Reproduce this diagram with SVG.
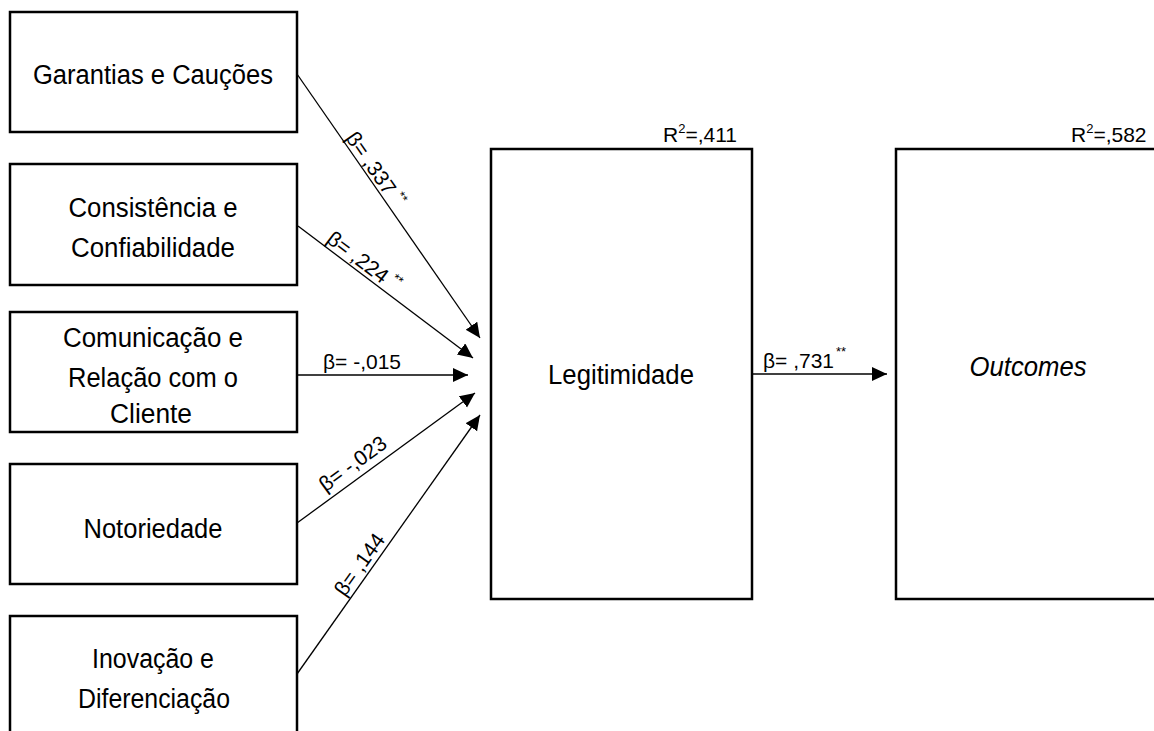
<svg xmlns="http://www.w3.org/2000/svg" width="1154" height="731" viewBox="0 0 1154 731">
<style>
.box{fill:#fff;stroke:#000;stroke-width:2.5}
.nt{font-family:"Liberation Sans",Arial,sans-serif;font-size:27px;fill:#000;text-anchor:middle}
.lb{font-family:"Liberation Sans",Arial,sans-serif;font-size:21px;fill:#000}
.sup{font-size:13px}
.cn{stroke:#000;stroke-width:1.3;fill:none;marker-end:url(#ah)}
</style>
<defs>
<marker id="ah" markerUnits="userSpaceOnUse" markerWidth="16" markerHeight="15" refX="15" refY="7" orient="auto">
<path d="M0,0 L15,7 L0,14 z" fill="#000"/>
</marker>
</defs>
<rect width="1154" height="731" fill="#fff"/>
<g id="n1"><rect class="box" x="10" y="12" width="287" height="120"/>
<text class="nt" x="153" y="84" textLength="240" lengthAdjust="spacingAndGlyphs">Garantias e Cauções</text></g>
<g id="n2"><rect class="box" x="10" y="164" width="287" height="121"/>
<text class="nt" x="153" y="217" textLength="169" lengthAdjust="spacingAndGlyphs">Consistência e</text>
<text class="nt" x="153" y="257" textLength="164" lengthAdjust="spacingAndGlyphs">Confiabilidade</text></g>
<g id="n3"><rect class="box" x="10" y="312" width="287" height="120"/>
<text class="nt" x="153" y="347" textLength="180" lengthAdjust="spacingAndGlyphs">Comunicação e</text>
<text class="nt" x="153" y="387" textLength="170" lengthAdjust="spacingAndGlyphs">Relação com o</text>
<text class="nt" x="151" y="423" textLength="82" lengthAdjust="spacingAndGlyphs">Cliente</text></g>
<g id="n4"><rect class="box" x="10" y="464" width="287" height="120"/>
<text class="nt" x="153" y="538" textLength="139" lengthAdjust="spacingAndGlyphs">Notoriedade</text></g>
<g id="n5"><rect class="box" x="10" y="616" width="287" height="140"/>
<text class="nt" x="153" y="668" textLength="122" lengthAdjust="spacingAndGlyphs">Inovação e</text>
<text class="nt" x="154" y="708" textLength="152" lengthAdjust="spacingAndGlyphs">Diferenciação</text></g>
<g id="legitimidade"><rect class="box" x="491" y="149" width="261" height="450"/>
<text class="nt" x="621" y="384" textLength="146" lengthAdjust="spacingAndGlyphs">Legitimidade</text>
<text class="lb" x="663" y="142">R<tspan class="sup" dy="-9">2</tspan><tspan dy="9">=,411</tspan></text></g>
<g id="outcomes"><rect class="box" x="896" y="149" width="270" height="450"/>
<text class="nt" x="1028" y="376" font-style="italic" textLength="117" lengthAdjust="spacingAndGlyphs">Outcomes</text>
<text class="lb" x="1071" y="142">R<tspan class="sup" dy="-9">2</tspan><tspan dy="9">=,582</tspan></text></g>
<g id="connectors">
<line class="cn" x1="297" y1="74" x2="480" y2="338"/>
<line class="cn" x1="298" y1="226" x2="473" y2="358"/>
<line class="cn" x1="297" y1="375" x2="468" y2="375"/>
<line class="cn" x1="297" y1="523" x2="475" y2="393"/>
<line class="cn" x1="297" y1="674" x2="480" y2="415"/>
<line class="cn" x1="752" y1="374" x2="887" y2="374"/>
<g transform="translate(297,74) rotate(55.3)"><text class="lb" x="80" y="-3">β= ,337<tspan class="sup" dx="5" dy="-9">**</tspan></text></g>
<g transform="translate(298,226) rotate(37)"><text class="lb" x="31" y="-4">β= ,224<tspan class="sup" dx="5" dy="-9">**</tspan></text></g>
<text class="lb" x="323" y="369">β= -,015</text>
<g transform="translate(297,523) rotate(-36.1)"><text class="lb" x="41" y="-8">β= -,023</text></g>
<g transform="translate(297,674) rotate(-54.75)"><text class="lb" x="90" y="-5">β= ,144</text></g>
<text class="lb" x="763" y="368">β= ,731<tspan class="sup" dx="2" dy="-12">**</tspan></text>
</g>
</svg>
